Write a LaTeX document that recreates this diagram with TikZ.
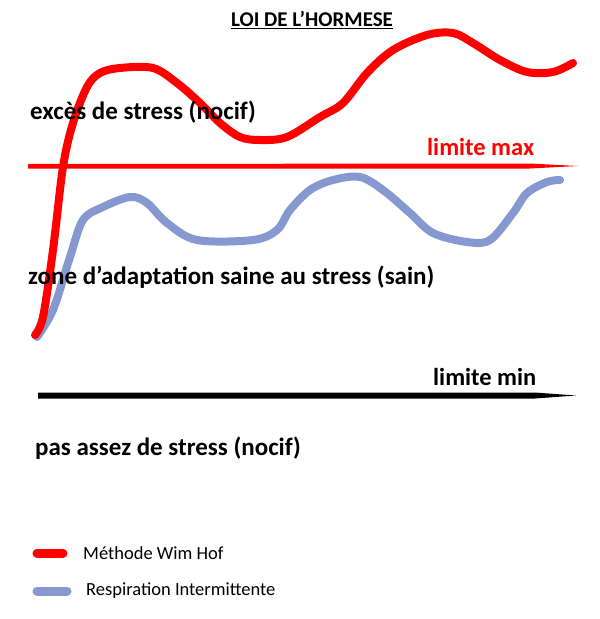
\documentclass[tikz,border=0pt]{standalone}
\usepackage{fontspec}
\setmainfont{Carlito}
\usepackage{xcolor}
\usetikzlibrary{positioning}
\definecolor{wimred}{RGB}{255,0,0}
\definecolor{respblue}{RGB}{134,152,208}

\begin{document}
\begin{tikzpicture}[x=1pt, y=-1pt,
  zone/.style={anchor=west, inner sep=0pt, font=\fontsize{25}{30}\selectfont\bfseries},
  limit/.style={anchor=west, inner sep=0pt, font=\fontsize{24.5}{30}\selectfont\bfseries},
  legend/.style={anchor=west, inner sep=0pt, font=\fontsize{18.5}{22}\selectfont},
  curve/.style={line width=8pt, line cap=round, line join=round},
  key/.style={line width=9pt, line cap=round},
]
\useasboundingbox (0,0) rectangle (600,619);

% limit lines
\fill[wimred] (28,164) -- (530,163.5) -- (578,166) -- (530,168.5) -- (28,168.5) -- cycle;
\fill[black] (38,392.5) -- (535,392.5) -- (576,395.5) -- (535,398.5) -- (38,398.5) -- cycle;

% curves
\draw[curve, respblue] plot[smooth, tension=0.55] coordinates {
  (37,337) (53,310) (70,257) (83,220) (103,207) (130,197) (147,203)
  (167,223) (197,240) (253,240) (277,230) (290,210) (310,190) (333,180)
  (360,177) (383,190) (410,213) (433,233) (467,242) (490,240) (513,213)
  (527,193) (547,182) (560,180)};
\draw[curve, wimred] plot[smooth, tension=0.55] coordinates {
  (35,335) (43,317) (53,250) (63,167) (73,123) (87,87) (100,73) (120,68)
  (153,68) (177,83) (200,103) (220,123) (240,137) (260,140) (287,137)
  (320,117) (343,103) (367,73) (393,50) (427,35) (453,33) (473,43)
  (500,60) (527,72) (553,72) (573,63)};

% texts
\node[inner sep=0pt, font=\fontsize{21}{25}\selectfont\bfseries] (title) at (312,20) {\underline{LOI DE L’HORMESE}};
\node[zone] (exces) at (30,112) {excès de stress (nocif)};
\node[limit, text=wimred] (max) at (427,147) {limite max};
\node[zone] (adapt) at (28,277) {zone d’adaptation saine au stress (sain)};
\node[limit] (min) at (433,377) {limite min};
\node[zone] (pas) at (35,448) {pas assez de stress (nocif)};

% legend
\draw[key, wimred] (37,553) -- (63,553);
\node[legend] (wim) at (83,553) {Méthode Wim Hof};
\draw[key, respblue] (37,591) -- (67,591);
\node[legend] (resp) at (86,591) {Respiration Intermittente};
\end{tikzpicture}
\end{document}
